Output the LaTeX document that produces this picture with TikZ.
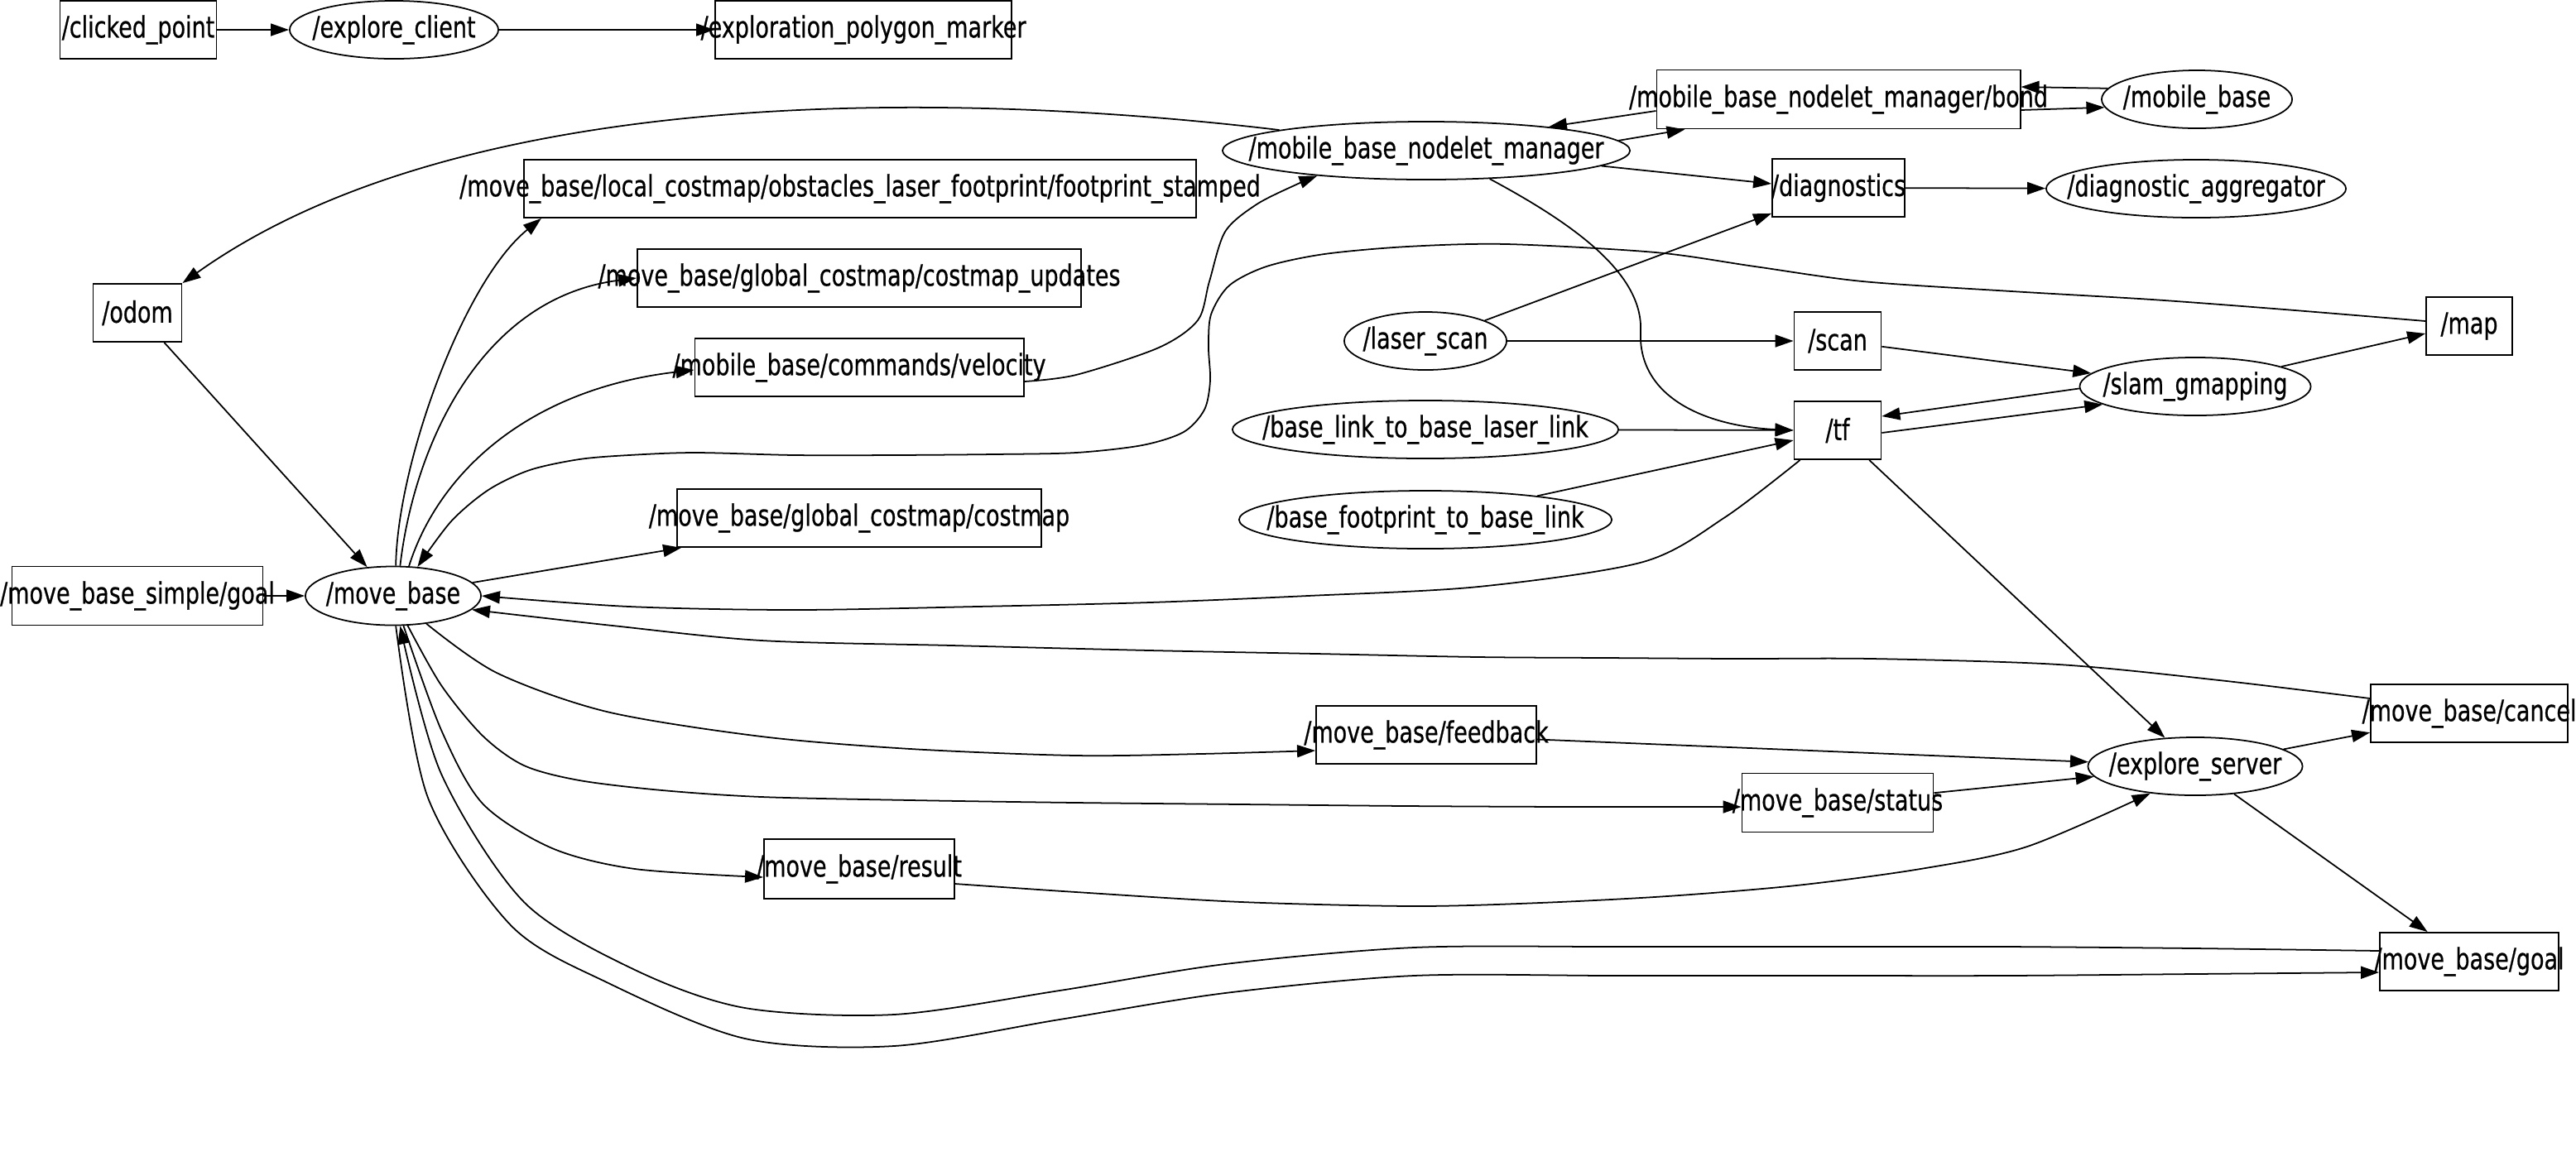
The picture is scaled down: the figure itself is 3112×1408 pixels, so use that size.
\documentclass[tikz,border=0pt]{standalone}
\usepackage{fontspec}
\setmainfont{DejaVu Sans}[FakeStretch=0.76, FakeBold=0.6]
\usetikzlibrary{arrows.meta,shapes.geometric,calc}
\newcommand\lblfont{\fontsize{10.1pt}{12pt}\selectfont}
\newcommand\lbl[1]{\makebox[0pt]{#1}}
\tikzset{
  box/.style={draw, rectangle, minimum height=0.7cm, inner sep=0pt, line width=0.5pt, font=\lblfont},
  ell/.style={draw, ellipse, minimum height=0.7cm, inner sep=0pt, line width=0.5pt, font=\lblfont},
  edge/.style={-{Triangle[length=0.22cm,width=0.15cm]}, line width=0.5pt},
}
\begin{document}
\begin{tikzpicture}[x=0.01cm, y=-0.01cm]
\useasboundingbox (0,0) rectangle (3112,1408);
% nodes
\node[box, minimum width=1.89cm] (cp) at (167,36) {\lbl{/clicked\_point}};
\node[ell, minimum width=2.52cm] (ec) at (476,36) {\lbl{/explore\_client}};
\node[box, minimum width=3.58cm] (epm) at (1043,36) {\lbl{/exploration\_polygon\_marker}};
\node[box, minimum width=4.39cm, minimum height=0.71cm] (bond) at (2221,120) {\lbl{/mobile\_base\_nodelet\_manager/bond}};
\node[ell, minimum width=2.30cm] (mbase) at (2654,120) {\lbl{/mobile\_base}};
\node[ell, minimum width=4.92cm] (mgr) at (1723,182) {\lbl{/mobile\_base\_nodelet\_manager}};
\node[box, minimum width=1.60cm] (diag) at (2221,227) {\lbl{/diagnostics}};
\node[ell, minimum width=3.62cm] (agg) at (2653,228) {\lbl{/diagnostic\_aggregator}};
\node[box, minimum width=8.12cm] (fp) at (1039,228) {\lbl{/move\_base/local\_costmap/obstacles\_laser\_footprint/footprint\_stamped}};
\node[box, minimum width=5.36cm] (cu) at (1038,336) {\lbl{/move\_base/global\_costmap/costmap\_updates}};
\node[box, minimum width=3.97cm] (vel) at (1038,444) {\lbl{/mobile\_base/commands/velocity}};
\node[box, minimum width=4.40cm] (gc) at (1038,626) {\lbl{/move\_base/global\_costmap/costmap}};
\node[box, minimum width=1.07cm] (odom) at (166,378) {\lbl{/odom}};
\node[box, minimum width=3.03cm, minimum height=0.71cm] (sg) at (166,720) {\lbl{/move\_base\_simple/goal}};
\node[ell, minimum width=2.12cm, minimum height=0.71cm] (mb) at (475,720) {\lbl{/move\_base}};
\node[ell, minimum width=1.96cm] (ls) at (1722,412) {\lbl{/laser\_scan}};
\node[box, minimum width=1.05cm] (scan) at (2220,412) {\lbl{/scan}};
\node[box, minimum width=1.04cm] (map) at (2983,394) {\lbl{/map}};
\node[ell, minimum width=2.79cm] (slam) at (2652,467) {\lbl{/slam\_gmapping}};
\node[box, minimum width=1.05cm] (tf) at (2220,520) {\lbl{/tf}};
\node[ell, minimum width=4.66cm] (bl) at (1722,519) {\lbl{/base\_link\_to\_base\_laser\_link}};
\node[ell, minimum width=4.50cm] (bf) at (1722,628) {\lbl{/base\_footprint\_to\_base\_link}};
\node[box, minimum width=2.66cm] (fb) at (1723,888) {\lbl{/move\_base/feedback}};
\node[box, minimum width=2.31cm, minimum height=0.71cm] (st) at (2220,970) {\lbl{/move\_base/status}};
\node[ell, minimum width=2.59cm] (es) at (2652,926) {\lbl{/explore\_server}};
\node[box, minimum width=2.38cm] (cancel) at (2983,862) {\lbl{/move\_base/cancel}};
\node[box, minimum width=2.16cm] (goal) at (2983,1162) {\lbl{/move\_base/goal}};
\node[box, minimum width=2.30cm, minimum height=0.72cm] (res) at (1038,1050) {\lbl{/move\_base/result}};
% helper coordinates on node borders
\coordinate (bondin) at ($(bond.south west)+(35,0)$);
\coordinate (bondout) at ($(bond.west)+(0,14)$);
\coordinate (bondrin) at ($(bond.east)+(0,-15)$);
\coordinate (bondrout) at ($(bond.east)+(0,13)$);
\coordinate (diagin) at ($(diag.west)+(0,-5)$);
\coordinate (diagin2) at ($(diag.south west)+(0,-5)$);
\coordinate (tfin1) at ($(tf.east)+(0,-17)$);
\coordinate (tfout1) at ($(tf.east)+(0,3)$);
\coordinate (tfin2) at ($(tf.west)+(0,12)$);
\coordinate (mapin) at ($(map.west)+(0,9)$);
\coordinate (mapout) at ($(map.west)+(0,-6)$);
\coordinate (fpin) at ($(fp.south west)+(22,0)$);
\coordinate (velin) at ($(vel.west)+(0,3)$);
\coordinate (velout) at ($(vel.east)+(0,17)$);
\coordinate (tfout) at ($(tf.south west)+(8,0)$);
\coordinate (cancelout) at ($(cancel.west)+(0,-18)$);
\coordinate (fbin) at ($(fb.west)+(0,19)$);
\coordinate (stin) at ($(st.west)+(0,5)$);
\coordinate (resin) at ($(res.west)+(0,10)$);
\coordinate (resout) at ($(res.east)+(0,18)$);
\coordinate (goalout) at ($(goal.west)+(0,-13)$);
\coordinate (goalin) at ($(goal.west)+(0,13)$);
% edges
\draw[edge] (cp) -- (ec);
\draw[edge] (ec) -- (epm);
\draw[edge] (mgr.3.8) -- (bondin);
\draw[edge] (bondout) -- (mgr.11.9);
\draw[edge] (mbase.173.8) -- (bondrin);
\draw[edge] (bondrout) -- (mbase.185.6);
\draw[edge] (mgr.-5.2) -- (diagin);
\draw[edge] (diag) -- (agg);
\draw[edge] (mgr.172.1) .. controls (1150,110) and (560,100) .. (odom.north east);
\draw[edge] (mgr.-24) .. controls (1900,270) and (1985,330) .. (1982,400) .. controls (1978,480) and (2060,515) .. (tf.west);
\draw[edge] (ls.19.4) -- (diagin2);
\draw[edge] (ls) -- (scan);
\draw[edge] (scan) -- (slam);
\draw[edge] (slam.181.6) -- (tfin1);
\draw[edge] (tfout1) -- (slam.191.1);
\draw[edge] (slam.13) -- (mapin);
\draw[edge] (bl) -- (tf);
\draw[edge] (bf.12.4) -- (tfin2);
\draw[edge] (tf) -- (es);
\draw[edge] (es) -- (cancel);
\draw[edge] (es) -- (goal);
\draw[edge] (fb) -- (es);
\draw[edge] (st) -- (es);
\draw[edge] (odom) -- (mb);
\draw[edge] (sg) -- (mb);
\draw[edge] (mb) -- (gc);
\draw[edge] (mb.85) .. controls (480,560) and (560,340) .. (fpin);
\draw[edge] (mb.77) .. controls (500,540) and (580,360) .. (cu.west);
\draw[edge] (mb.62) .. controls (530,570) and (640,470) .. (velin);
\draw[edge] plot[smooth, tension=0.5] coordinates {(mapout) (2760,374) (2600,362) (2430,352) (2250,340) (2120,322) (2000,305) (1820,295) (1700,298) (1600,307) (1530,322) (1485,345) (1463,380) (1460,420) (1462,460) (1455,495) (1430,522) (1380,538) (1300,547) (1200,549) (1080,550) (960,550) (840,547) (760,550) (700,555) (640,568) (590,592) (545,630) (mb.50)};
\draw[edge] plot[smooth, tension=0.5] coordinates {(velout) (1300,453) (1400,420) (1447,387) (1461,340) (1480,280) (1518,247) (1566,223) (mgr.193.6)};
\draw[edge] plot[smooth, tension=0.5] coordinates {(tfout) (2084,625) (1985,679) (1786,709) (1580,720) (1389,728) (1180,733) (960,737) (760,733) (mb.east)};
\draw[edge] plot[smooth, tension=0.5] coordinates {(cancelout) (2681,822) (2487,803) (2261,796) (2100,796) (1940,795) (1786,794) (1590,790) (1389,786) (1150,780) (920,774) (740,756) (mb.-10.5)};
\draw[edge] plot[smooth, tension=0.5] coordinates {(mb.-40) (600,813) (733,860) (920,890) (1100,905) (1300,913) (1450,911) (fbin)};
\draw[edge] plot[smooth, tension=0.5] coordinates {(mb.-64) (533,828) (583,889) (633,925) (700,943) (800,955) (920,963) (1100,967) (1300,970) (1500,972) (1700,974) (1900,975) (stin)};
\draw[edge] plot[smooth, tension=0.5] coordinates {(mb.-71) (533,882) (583,971) (667,1025) (767,1050) (resin)};
\draw[edge] plot[smooth, tension=0.5] coordinates {(resout) (1300,1078) (1500,1090) (1708,1095) (1860,1091) (2014,1083) (2170,1070) (2320,1050) (2449,1023) (es.211.7)};
\draw[edge] plot[smooth, tension=0.5] coordinates {(goalout) (2650,1146) (2422,1144) (2200,1144) (1950,1144) (1708,1145) (1480,1165) (1280,1197) (1080,1226) (900,1218) (767,1172) (633,1090) (533,935) (mb.-77)};
\draw[edge] plot[smooth, tension=0.5] coordinates {(mb.-85) (517,964) (617,1118) (733,1187) (900,1255) (1080,1264) (1280,1232) (1480,1200) (1708,1179) (1950,1179) (2200,1179) (2422,1179) (2650,1177) (goalin)};
\end{tikzpicture}
\end{document}
